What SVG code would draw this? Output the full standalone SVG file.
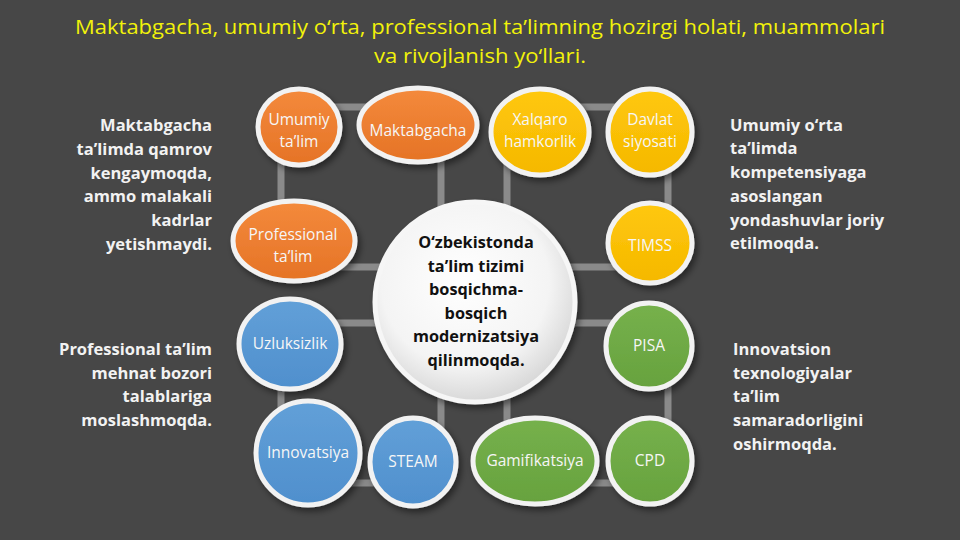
<svg xmlns="http://www.w3.org/2000/svg" width="960" height="540" viewBox="0 0 960 540">
<defs>
<style>
.title{font-family:"Open Sans","Noto Sans","Liberation Sans",sans-serif;font-size:20px;fill:#f2f20a;text-anchor:middle}
.side{font-family:"Open Sans","Noto Sans","Liberation Sans",sans-serif;font-size:16.5px;font-weight:bold;fill:#f2f2f2}
.lbl{font-family:"Open Sans","Noto Sans","Liberation Sans",sans-serif;font-size:15.5px;fill:#f6f6f6;text-anchor:middle}
.ctr{font-family:"Open Sans","Noto Sans","Liberation Sans",sans-serif;font-size:16.3px;font-weight:bold;fill:#111;text-anchor:middle}
.loop{fill:none;stroke:#8a8a8a;stroke-width:7}
.node{stroke:#f2f2f2;stroke-width:5;filter:url(#sh)}
.o{fill:url(#gO)}.y{fill:url(#gY)}.g{fill:url(#gG)}.b{fill:url(#gB)}
</style>
<linearGradient id="gO" x1="0" y1="0" x2="0" y2="1"><stop offset="0" stop-color="#f48a3c"/><stop offset="1" stop-color="#e57326"/></linearGradient>
<linearGradient id="gY" x1="0" y1="0" x2="0" y2="1"><stop offset="0" stop-color="#ffc80d"/><stop offset="1" stop-color="#f5b800"/></linearGradient>
<linearGradient id="gG" x1="0" y1="0" x2="0" y2="1"><stop offset="0" stop-color="#76b14c"/><stop offset="1" stop-color="#67a23e"/></linearGradient>
<linearGradient id="gB" x1="0" y1="0" x2="0" y2="1"><stop offset="0" stop-color="#62a0d8"/><stop offset="1" stop-color="#4f8fcd"/></linearGradient>
<radialGradient id="gC" cx="0.45" cy="0.4" r="0.6"><stop offset="0" stop-color="#ffffff"/><stop offset="0.7" stop-color="#f4f4f4"/><stop offset="1" stop-color="#d8d8d8"/></radialGradient>
<filter id="sh" x="-20%" y="-20%" width="150%" height="150%"><feDropShadow dx="3" dy="4" stdDeviation="3" flood-color="#000" flood-opacity="0.45"/></filter>
</defs>
<rect width="960" height="540" fill="#474747"/>
<text class="title" x="480" y="34" textLength="810" lengthAdjust="spacingAndGlyphs">Maktabgacha, umumiy o‘rta, professional ta’limning hozirgi holati, muammolari</text>
<text class="title" x="480" y="63" textLength="212" lengthAdjust="spacingAndGlyphs">va rivojlanish yo‘llari.</text>
<g id="connectors">
<rect class="loop" x="281" y="107" width="160" height="160" rx="45"/>
<rect class="loop" x="507" y="107" width="161" height="160" rx="45"/>
<rect class="loop" x="281" y="323" width="160" height="160" rx="45"/>
<rect class="loop" x="507" y="323" width="161" height="160" rx="45"/>
</g>
<g id="center">
<circle cx="475" cy="302" r="100" fill="url(#gC)" stroke="#f6f6f6" stroke-width="5" filter="url(#sh)"/>
<text class="ctr" x="476" y="248">O‘zbekistonda</text>
<text class="ctr" x="476" y="272">ta’lim tizimi</text>
<text class="ctr" x="476" y="295">bosqichma-</text>
<text class="ctr" x="476" y="319">bosqich</text>
<text class="ctr" x="476" y="342">modernizatsiya</text>
<text class="ctr" x="476" y="366">qilinmoqda.</text>
</g>
<g id="n-umumiy"><ellipse class="node o" cx="299" cy="127" rx="41" ry="38"/><text class="lbl" x="299" y="125">Umumiy</text><text class="lbl" x="299" y="147">ta’lim</text></g>
<g id="n-maktabgacha"><ellipse class="node o" cx="418" cy="125" rx="59" ry="37"/><text class="lbl" x="418" y="136">Maktabgacha</text></g>
<g id="n-professional"><ellipse class="node o" cx="294" cy="241" rx="61" ry="40"/><text class="lbl" x="293" y="240">Professional</text><text class="lbl" x="293" y="262">ta’lim</text></g>
<g id="n-xalqaro"><ellipse class="node y" cx="540" cy="132" rx="49" ry="43"/><text class="lbl" x="540" y="125">Xalqaro</text><text class="lbl" x="540" y="147">hamkorlik</text></g>
<g id="n-davlat"><ellipse class="node y" cx="650" cy="132" rx="42" ry="43"/><text class="lbl" x="650" y="125">Davlat</text><text class="lbl" x="650" y="147">siyosati</text></g>
<g id="n-timss"><ellipse class="node y" cx="650" cy="243" rx="42" ry="40"/><text class="lbl" x="650" y="251">TIMSS</text></g>
<g id="n-uzluksizlik"><ellipse class="node b" cx="290" cy="344" rx="51" ry="45"/><text class="lbl" x="290" y="349">Uzluksizlik</text></g>
<g id="n-pisa"><ellipse class="node g" cx="649" cy="346" rx="43" ry="43"/><text class="lbl" x="649" y="351">PISA</text></g>
<g id="n-innovatsiya"><ellipse class="node b" cx="308" cy="453" rx="52" ry="52"/><text class="lbl" x="308" y="458">Innovatsiya</text></g>
<g id="n-steam"><ellipse class="node b" cx="413" cy="462" rx="43" ry="44"/><text class="lbl" x="413" y="467">STEAM</text></g>
<g id="n-gamifikatsiya"><ellipse class="node g" cx="535" cy="461" rx="62" ry="43"/><text class="lbl" x="535" y="466">Gamifikatsiya</text></g>
<g id="n-cpd"><ellipse class="node g" cx="650" cy="461" rx="42" ry="43"/><text class="lbl" x="650" y="466">CPD</text></g>
<g id="side-left" text-anchor="end">
<text class="side" x="212" y="131">Maktabgacha</text>
<text class="side" x="212" y="155">ta’limda qamrov</text>
<text class="side" x="212" y="179">kengaymoqda,</text>
<text class="side" x="212" y="202">ammo malakali</text>
<text class="side" x="212" y="226">kadrlar</text>
<text class="side" x="212" y="250">yetishmaydi.</text>
<text class="side" x="212" y="355">Professional ta’lim</text>
<text class="side" x="212" y="379">mehnat bozori</text>
<text class="side" x="212" y="402">talablariga</text>
<text class="side" x="212" y="426">moslashmoqda.</text>
</g>
<g id="side-right">
<text class="side" x="730" y="131">Umumiy o‘rta</text>
<text class="side" x="730" y="154">ta’limda</text>
<text class="side" x="730" y="178">kompetensiyaga</text>
<text class="side" x="730" y="202">asoslangan</text>
<text class="side" x="730" y="226">yondashuvlar joriy</text>
<text class="side" x="730" y="249">etilmoqda.</text>
<text class="side" x="733" y="355">Innovatsion</text>
<text class="side" x="733" y="379">texnologiyalar</text>
<text class="side" x="733" y="402">ta’lim</text>
<text class="side" x="733" y="426">samaradorligini</text>
<text class="side" x="733" y="450">oshirmoqda.</text>
</g>
</svg>
